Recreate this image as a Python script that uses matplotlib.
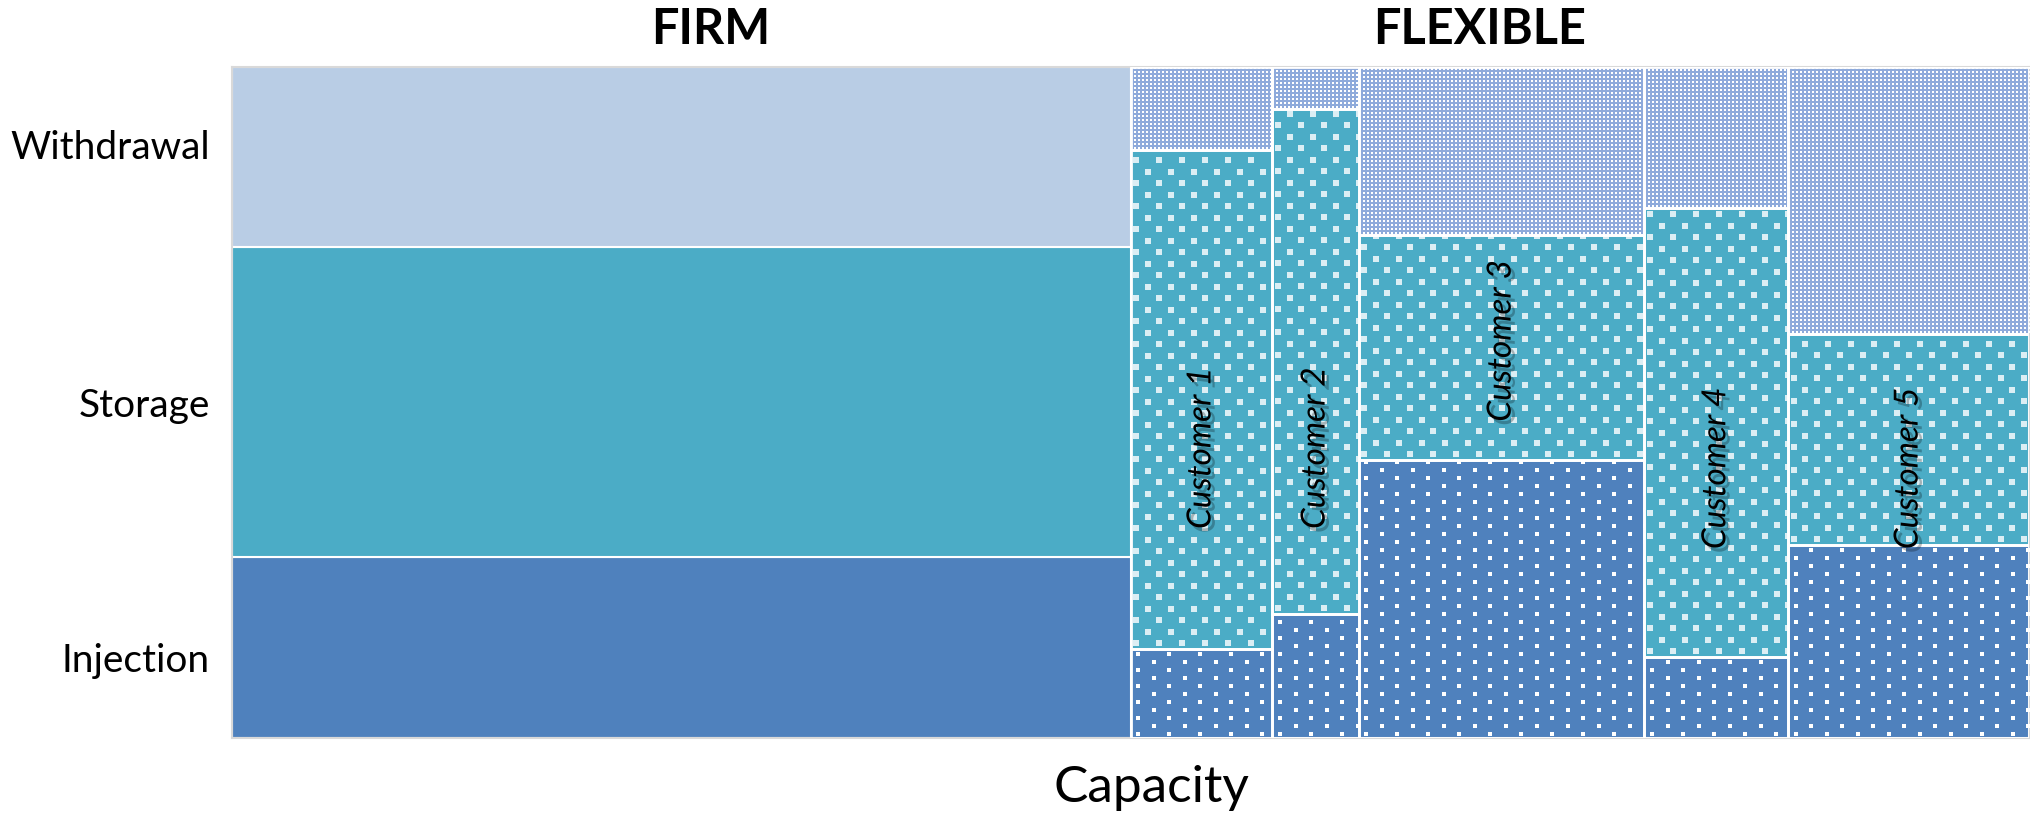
import numpy as np
import matplotlib
matplotlib.use("Agg")
import matplotlib.pyplot as plt
from matplotlib import patheffects

# capacity share of each column (x widths, %)
columns = ["FIRM", "Customer 1", "Customer 2", "Customer 3", "Customer 4", "Customer 5"]
capacity = [50.0, 7.9, 4.8, 15.9, 8.0, 13.4]

# share of each service inside a column (%), bottom to top
injection = [27.0, 13.3, 18.5, 41.4, 12.1, 28.8]
storage = [46.2, 74.4, 75.3, 33.5, 66.9, 31.4]
withdrawal = [26.8, 12.3, 6.2, 25.1, 21.0, 39.8]

row_labels = ["Injection", "Storage", "Withdrawal"]

plt.rcParams['font.family'] = ['Lato', 'DejaVu Sans']

W, H = 2031, 816
fig = plt.figure(figsize=(W / 100, H / 100), dpi=100)
ax_l, ax_r, ax_t, ax_b = 232, 2029, 67, 738
ax = fig.add_axes([ax_l / W, (H - ax_b) / H, (ax_r - ax_l) / W, (ax_b - ax_t) / H])
ax.set_xlim(0, 100)
ax.set_ylim(0, 100)

px_x = (ax_r - ax_l) / 100.0
px_y = (ax_b - ax_t) / 100.0

firm_colors = ["#4f81bd", "#4bacc6", "#b9cde5"]
flex_colors = ["#4f81bd", "#4bacc6", "#8eaadb"]
# dot textures of the flexible blocks: (step x px, step y px, size px, colour, staggered)
flex_dots = [(31, 8, 3.5, "white", True),
             (23, 11.5, 5.5, "#dbeef4", True),
             (4, 4, 2.0, "white", False)]


def add_texture(rect, x0, w, y0, h, step_x, step_y, size, color, stagger):
    sx = step_x / px_x
    sy = step_y / px_y
    xs, ys = [], []
    for i, y in enumerate(np.arange(y0 + sy / 2, y0 + h, sy)):
        off = sx / 2 if (stagger and i % 2) else 0
        for x in np.arange(x0 + sx / 4 + off, x0 + w + sx / 2, sx):
            xs.append(x)
            ys.append(y)
    pts = ax.scatter(xs, ys, marker="s", s=(size * 0.72) ** 2, c=color,
                     linewidths=0, zorder=3)
    pts.set_clip_path(rect)


lefts = np.concatenate([[0], np.cumsum(capacity)[:-1]])
segments = [injection, storage, withdrawal]
for i, left in enumerate(lefts):
    bottom = 0
    for k, seg in enumerate(segments):
        val = seg[i]
        if i == 0:
            rect = ax.bar(left, val, capacity[i], bottom=bottom, align="edge",
                          color=firm_colors[k], edgecolor="white", linewidth=1.5,
                          zorder=2)[0]
        else:
            rect = ax.bar(left, val, capacity[i], bottom=bottom, align="edge",
                          color=flex_colors[k], edgecolor="none", zorder=2)[0]
            add_texture(rect, left, capacity[i], bottom, val, *flex_dots[k])
            ax.bar(left, val, capacity[i], bottom=bottom, align="edge",
                   color="none", edgecolor="white", linewidth=2, zorder=4)
        bottom += val

# customer names, rotated inside the storage block
label_y = [43.2, 43.2, 59.2, 40.2, 40.2]
shadow = [patheffects.withSimplePatchShadow(offset=(3, -3), shadow_rgbFace="black",
                                            alpha=0.25)]
for i in range(1, len(columns)):
    ax.text(lefts[i] + capacity[i] / 2, label_y[i - 1], columns[i], rotation=90,
            ha="center", va="center", fontsize=24, style="italic", color="black",
            zorder=5, path_effects=shadow)

ax.set_yticks([12, 50, 88.5])
ax.set_yticklabels(row_labels, fontsize=28)
ax.tick_params(axis="y", length=0, pad=16)
ax.set_xticks([])
for sp in ax.spines.values():
    sp.set_color("#d9d9d9")
    sp.set_linewidth(1.5)

fig.text(711 / W, 1 - 30 / H, "FIRM", ha="center", va="center", fontsize=35,
         fontweight="bold")
fig.text(1480 / W, 1 - 30 / H, "FLEXIBLE", ha="center", va="center", fontsize=35,
         fontweight="bold")
fig.text(1151 / W, 1 - 788 / H, "Capacity", ha="center", va="center", fontsize=37)

fig.savefig("out.png", dpi=100)
